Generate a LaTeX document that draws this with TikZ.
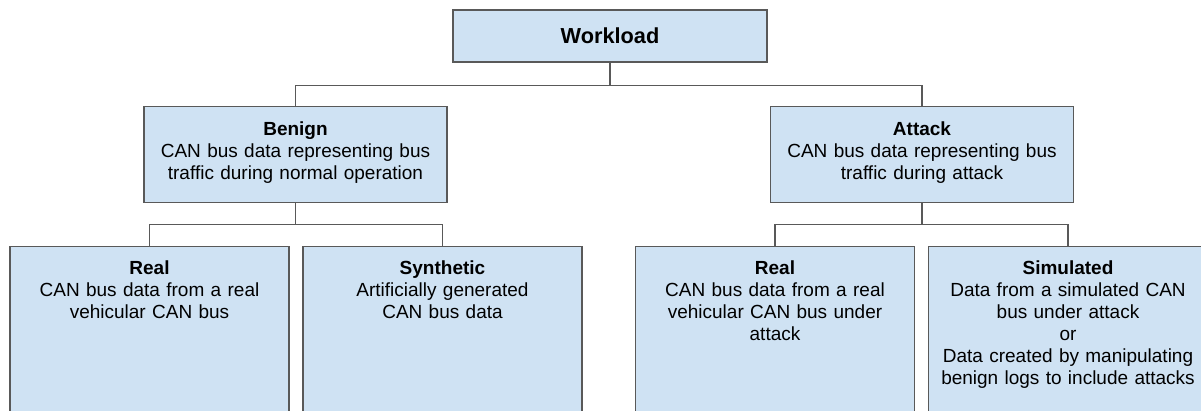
\documentclass[tikz,border=0pt]{standalone}
\usepackage{fontspec}
\setmainfont{Liberation Sans}
\usepackage{tikz}
\usetikzlibrary{positioning,calc}
\definecolor{boxfill}{HTML}{CFE2F3}
\definecolor{boxline}{HTML}{595959}
\tikzset{
    wbox/.style = {draw=boxline, line width=0.9pt, fill=boxfill, inner xsep=6pt},
    roottext/.style = {wbox, minimum width=235.5pt, minimum height=39pt, font=\fontsize{16.3}{19}\selectfont\bfseries},
    midtext/.style = {wbox, anchor=north, text width=215.25pt, align=center, inner ysep=11.25pt, text height=10.5pt, text depth=39pt, font=\fontsize{14.25}{16.5}\selectfont},
    leaftext/.style = {wbox, anchor=north, text width=197.25pt, align=center, inner ysep=10.5pt, text height=10.5pt, text depth=150pt, font=\fontsize{14.25}{16.5}\selectfont},
    link/.style = {draw=boxline, line width=0.8pt}
}

\begin{document}
\begin{tikzpicture}[x=0.75pt, y=-0.75pt]
                \path[use as bounding box, clip] (0,0) rectangle (1201,410);

                % top level
                \node[roottext] (workload) at (610,36) {Workload};

                % second level
                \node[midtext] (benign) at (295.5,106) {\textbf{Benign}\\CAN bus data representing bus\\traffic during normal operation};
                \node[midtext] (attack) at (922,106) {\textbf{Attack}\\CAN bus data representing bus\\traffic during attack};

                % leaves
                \node[leaftext] (breal) at (149.5,246) {\textbf{Real}\\CAN bus data from a real\\vehicular CAN bus};
                \node[leaftext] (synth) at (442.5,246) {\textbf{Synthetic}\\Artificially generated\\CAN bus data};
                \node[leaftext] (areal) at (775,246) {\textbf{Real}\\CAN bus data from a real\\vehicular CAN bus under\\attack};
                \node[leaftext] (sim) at (1068,246) {\textbf{Simulated}\\Data from a simulated CAN\\bus under attack\\or\\Data created by manipulating\\benign logs to include attacks};

                % links
                \draw[link] (workload.south) -- ++(0,23) -| (benign.north);
                \draw[link] (workload.south) -- ++(0,23) -| (attack.north);
                \draw[link] (benign.south) -- ++(0,21) -| (breal.north);
                \draw[link] (benign.south) -- ++(0,21) -| (synth.north);
                \draw[link] (attack.south) -- ++(0,21) -| (areal.north);
                \draw[link] (attack.south) -- ++(0,21) -| (sim.north);

            \end{tikzpicture}
\end{document}
